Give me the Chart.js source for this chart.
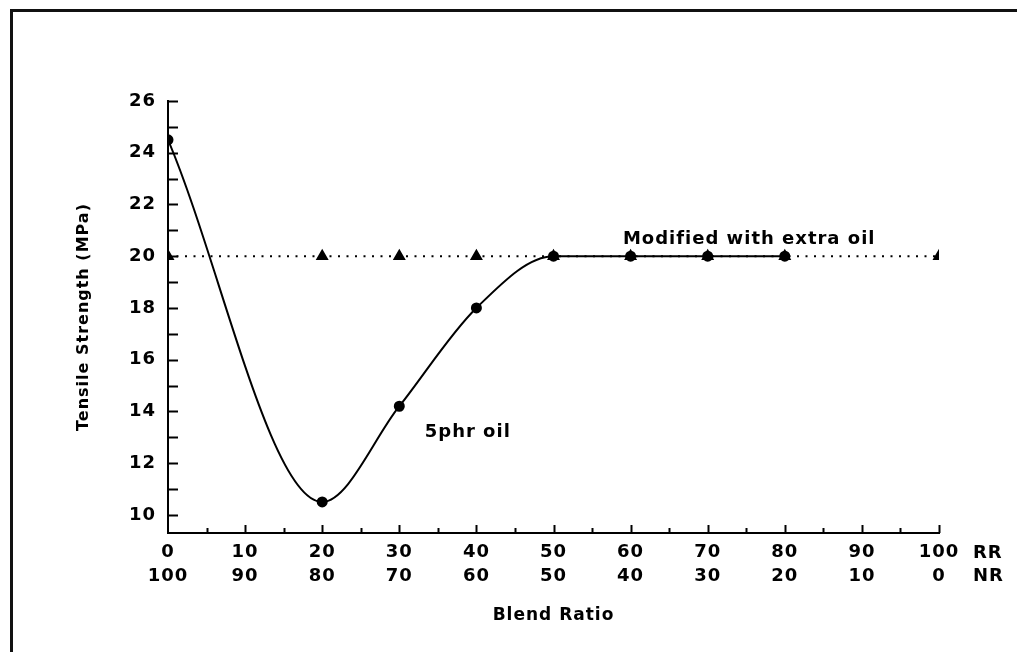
<!DOCTYPE html>
<html>
<head>
<meta charset="utf-8">
<script src="https://cdn.jsdelivr.net/npm/chart.js@4.4.1/dist/chart.umd.min.js"></script>
<style>
  html, body { margin: 0; padding: 0; background: #fff; }
  canvas { display: block; }
</style>
</head>
<body>
<canvas id="myChart" width="1017" height="652"></canvas>
<script>
// blend ratio (RR part) and tensile strength, MPa
var oilBlend = [0, 20, 30, 40, 50, 60, 70, 80];
var oilStrength = [24.5, 10.5, 14.2, 18.0, 20.0, 20.0, 20.0, 20.0];

var extraBlend = [0, 20, 30, 40, 50, 60, 70, 80, 100];
var extraStrength = [20, 20, 20, 20, 20, 20, 20, 20, 20];

var rrTicks = [0, 10, 20, 30, 40, 50, 60, 70, 80, 90, 100];
var nrTicks = [100, 90, 80, 70, 60, 50, 40, 30, 20, 10, 0];
var strengthTicks = [10, 12, 14, 16, 18, 20, 22, 24, 26];

var FONT = "'DejaVu Sans', 'Liberation Sans', Arial, sans-serif";

function toPoints(xs, ys) {
  var pts = [];
  for (var i = 0; i < xs.length; i++) pts.push({x: xs[i], y: ys[i]});
  return pts;
}

// wider lettering for all text on the canvas
function spaceLetters(chart) {
  chart.ctx.letterSpacing = '1px';
}

// inward tick marks, frame, RR/NR tags and curve labels
var extras = {
  id: 'extras',
  beforeLayout: spaceLetters,
  beforeDraw: spaceLetters,
  afterDraw: function(chart) {
    var ctx = chart.ctx;
    var xs = chart.scales.x, ys = chart.scales.y;
    var area = chart.chartArea;
    ctx.save();
    ctx.strokeStyle = '#000';
    ctx.lineWidth = 2;
    for (var v = 10; v <= 26; v++) {
      var py = Math.round(ys.getPixelForValue(v)) + 0.5;
      ctx.beginPath();
      ctx.moveTo(area.left, py);
      ctx.lineTo(area.left + 10, py);
      ctx.stroke();
    }
    for (var u = 5; u <= 100; u += 5) {
      var px = Math.round(xs.getPixelForValue(u)) + 0.5;
      ctx.beginPath();
      ctx.moveTo(px, area.bottom);
      ctx.lineTo(px, area.bottom - (u % 10 === 0 ? 8 : 5));
      ctx.stroke();
    }

    // frame
    ctx.lineWidth = 3;
    ctx.strokeStyle = '#111';
    ctx.beginPath();
    ctx.moveTo(11.5, 660);
    ctx.lineTo(11.5, 10.5);
    ctx.lineTo(1030, 10.5);
    ctx.stroke();

    ctx.fillStyle = '#000';
    ctx.font = 'bold 18px ' + FONT;
    ctx.textBaseline = 'middle';
    ctx.textAlign = 'left';
    var tagX = xs.getPixelForValue(100) + 34;
    ctx.fillText('RR', tagX, area.bottom + 20);
    ctx.fillText('NR', tagX, area.bottom + 43);

    ctx.fillText('Modified with extra oil', xs.getPixelForValue(59), ys.getPixelForValue(20.65));
    ctx.fillText('5phr oil', xs.getPixelForValue(33.3), ys.getPixelForValue(13.2));
    ctx.restore();
  }
};

var ctx = document.getElementById('myChart').getContext('2d');
var chart = new Chart(ctx, {
  type: 'line',
  data: {
    datasets: [{
      label: 'Modified with extra oil',
      data: toPoints(extraBlend, extraStrength),
      borderColor: '#000',
      backgroundColor: '#000',
      borderWidth: 2,
      borderDash: [2, 6.5],
      pointStyle: 'triangle',
      pointRadius: 5.5,
      pointHoverRadius: 5.5,
      tension: 0
    }, {
      label: '5phr oil',
      data: toPoints(oilBlend, oilStrength),
      borderColor: '#000',
      backgroundColor: '#000',
      borderWidth: 2,
      pointStyle: 'circle',
      pointRadius: 4.5,
      pointHoverRadius: 4.5,
      cubicInterpolationMode: 'monotone'
    }]
  },
  options: {
    responsive: false,
    animation: false,
    events: [],
    layout: { padding: { left: 70, top: 101, right: 78, bottom: 22 } },
    plugins: {
      legend: { display: false },
      tooltip: { enabled: false }
    },
    scales: {
      x: {
        type: 'linear',
        min: 0,
        max: 100,
        afterBuildTicks: function(scale) {
          scale.ticks = rrTicks.map(function(v) { return {value: v}; });
        },
        afterFit: function(scale) { scale.height = 652 - 22 - 533; },
        grid: { display: false, drawTicks: false },
        border: { display: true, color: '#000', width: 2 },
        ticks: {
          color: '#000',
          padding: 8,
          maxRotation: 0,
          autoSkip: false,
          font: { family: FONT, size: 18, weight: 'bold', lineHeight: 1.3 },
          callback: function(v) {
            var i = rrTicks.indexOf(v);
            return [String(rrTicks[i]), String(nrTicks[i])];
          }
        },
        title: {
          display: true,
          text: 'Blend Ratio',
          color: '#000',
          font: { family: FONT, size: 17, weight: 'bold' }
        }
      },
      y: {
        min: 9.3,
        max: 26,
        afterBuildTicks: function(scale) {
          scale.ticks = strengthTicks.map(function(v) { return {value: v}; });
        },
        afterFit: function(scale) { scale.width = 168 - 70; },
        grid: { display: false, drawTicks: false },
        border: { display: true, color: '#000', width: 2 },
        ticks: {
          color: '#000',
          padding: 12,
          font: { family: FONT, size: 18, weight: 'bold' }
        },
        title: {
          display: true,
          text: 'Tensile Strength (MPa)',
          color: '#000',
          font: { family: FONT, size: 16, weight: 'bold' }
        }
      }
    }
  },
  plugins: [extras]
});
</script>
</body>
</html>
